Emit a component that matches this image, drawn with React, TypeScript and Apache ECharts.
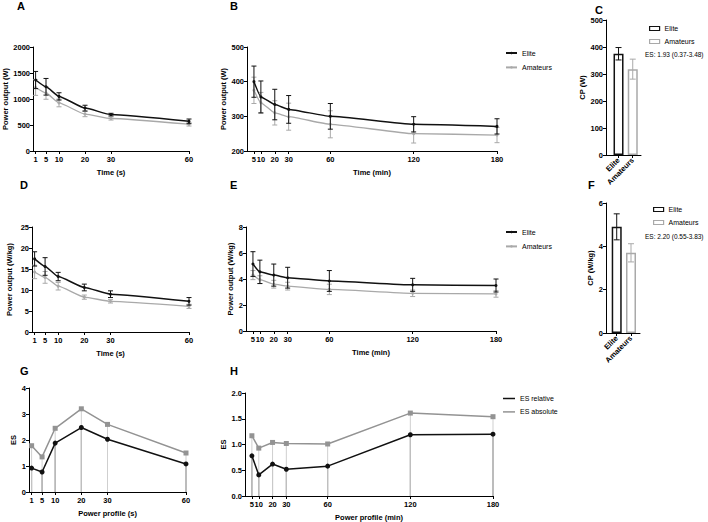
import React, { useEffect, useRef } from "react";
import * as echarts from "echarts";

// Durations (x values)
const timeSec = [1, 5, 10, 20, 30, 60];
const timeMin = [5, 10, 20, 30, 60, 120, 180];

// A: absolute power, short efforts (W)
const eliteWattSec = [1365, 1235, 1050, 825, 700, 570];
const eliteWattSecSd = [165, 160, 70, 55, 25, 45];
const amateurWattSec = [1220, 1115, 925, 710, 625, 515];
const amateurWattSecSd = [150, 120, 75, 50, 30, 35];

// B: absolute power, long efforts (W)
const eliteWattMin = [400, 356, 334, 320, 300, 277, 271];
const eliteWattMinSd = [45, 46, 44, 40, 37, 22, 22];
const amateurWattMin = [375, 339, 310, 299, 277, 250, 246];
const amateurWattMinSd = [38, 30, 35, 39, 39, 27, 22];

// D: relative power, short efforts (W/kg)
const eliteWkgSec = [17.4, 15.6, 13.2, 10.6, 9.0, 7.3];
const eliteWkgSecSd = [1.7, 2.1, 1.0, 0.8, 0.8, 0.9];
const amateurWkgSec = [14.3, 13.0, 10.9, 8.3, 7.3, 6.1];
const amateurWkgSecSd = [1.6, 1.4, 0.9, 0.5, 0.4, 0.5];

// E: relative power, long efforts (W/kg)
const eliteWkgMin = [5.15, 4.55, 4.3, 4.1, 3.85, 3.55, 3.5];
const eliteWkgMinSd = [0.95, 0.9, 0.85, 0.8, 0.8, 0.5, 0.5];
const amateurWkgMin = [4.3, 3.95, 3.6, 3.45, 3.2, 2.9, 2.85];
const amateurWkgMinSd = [0.35, 0.3, 0.3, 0.3, 0.4, 0.25, 0.25];

// C / F: critical power
const cpGroups = ["Elite", "Amateurs"];
const cpWatt = [375, 318];
const cpWattSd = [23, 37];
const cpWkg = [4.9, 3.7];
const cpWkgSd = [0.6, 0.42];
const esCpWatt = "ES: 1.93 (0.37-3.48)";
const esCpWkg = "ES: 2.20 (0.55-3.83)";

// G / H: effect sizes
const esRelSec = [0.92, 0.77, 1.88, 2.48, 2.03, 1.08];
const esAbsSec = [1.78, 1.35, 2.45, 3.2, 2.6, 1.5];
const esRelMin = [0.78, 0.41, 0.62, 0.52, 0.58, 1.19, 1.2];
const esAbsMin = [1.17, 0.93, 1.04, 1.02, 1.01, 1.61, 1.54];

const FONT = "'Liberation Sans', Arial, sans-serif";
const BLACK = "#111111";
const GREY = "#a9a9a9";
const ES_GREY = "#939393";
const DROP_GREY = "#cfcfcf";

const axisLineStyle = { color: "#000", width: 1 };
const labelStyle = {
  fontSize: 7.5,
  fontWeight: "bold" as const,
  color: "#000",
  fontFamily: FONT,
};
const nameStyle = {
  fontSize: 7.5,
  fontWeight: "bold" as const,
  color: "#000",
  fontFamily: FONT,
};

function xTimeAxis(gridIndex: number, max: number, ticks: number[], name: string, nameGap: number) {
  return {
    type: "value",
    gridIndex,
    min: 0,
    max,
    axisLine: { show: true, onZero: false, lineStyle: axisLineStyle },
    axisTick: { show: true, length: 3, customValues: ticks, lineStyle: axisLineStyle },
    axisLabel: { ...labelStyle, margin: 4, customValues: ticks },
    splitLine: { show: false },
    name,
    nameLocation: "middle",
    nameGap,
    nameTextStyle: nameStyle,
  };
}

function xGroupAxis(gridIndex: number, min: number, max: number) {
  return {
    type: "value",
    gridIndex,
    min,
    max,
    axisLine: { show: true, onZero: false, lineStyle: axisLineStyle },
    axisTick: { show: true, length: 3, customValues: [1, 2], lineStyle: axisLineStyle },
    axisLabel: {
      ...labelStyle,
      margin: 4,
      rotate: 45,
      customValues: [1, 2],
      formatter: (v: number) => cpGroups[Math.round(v) - 1] ?? "",
    },
    splitLine: { show: false },
  };
}

function yAxis(
  gridIndex: number,
  min: number,
  max: number,
  interval: number,
  name: string,
  nameGap: number,
  decimals = 0
) {
  return {
    type: "value",
    gridIndex,
    min,
    max,
    interval,
    axisLine: { show: true, onZero: false, lineStyle: axisLineStyle },
    axisTick: { show: true, length: 3, lineStyle: axisLineStyle },
    axisLabel: {
      ...labelStyle,
      margin: 3,
      formatter: (v: number) => v.toFixed(decimals),
    },
    splitLine: { show: false },
    name,
    nameLocation: "middle",
    nameGap,
    nameTextStyle: nameStyle,
  };
}

function meanLine(idx: number, name: string, xs: number[], ys: number[], color: string, width: number, z: number) {
  return {
    type: "line",
    name,
    xAxisIndex: idx,
    yAxisIndex: idx,
    data: xs.map((x, i) => [x, ys[i]]),
    smooth: 0.15,
    smoothMonotone: "x",
    symbol: "circle",
    symbolSize: 3,
    lineStyle: { color, width },
    itemStyle: { color },
    z,
  };
}

function errorBars(
  idx: number,
  xs: number[],
  mean: number[],
  sd: number[],
  colors: string | string[],
  z: number,
  cap = 2.5
) {
  return {
    type: "custom",
    xAxisIndex: idx,
    yAxisIndex: idx,
    data: xs.map((x, i) => [x, mean[i] - sd[i], mean[i] + sd[i]]),
    encode: { x: 0, y: [1, 2] },
    z,
    silent: true,
    renderItem: (p: any, api: any) => {
      const x = api.value(0);
      const lo = api.coord([x, api.value(1)]);
      const hi = api.coord([x, api.value(2)]);
      const color = Array.isArray(colors) ? colors[p.dataIndex] : colors;
      const style = { stroke: color, lineWidth: 1 };
      return {
        type: "group",
        children: [
          { type: "line", shape: { x1: lo[0], y1: lo[1], x2: hi[0], y2: hi[1] }, style },
          { type: "line", shape: { x1: lo[0] - cap, y1: lo[1], x2: lo[0] + cap, y2: lo[1] }, style },
          { type: "line", shape: { x1: hi[0] - cap, y1: hi[1], x2: hi[0] + cap, y2: hi[1] }, style },
        ],
      };
    },
  };
}

function dropLines(idx: number, xs: number[], ys: number[], color: string, z: number) {
  return {
    type: "custom",
    xAxisIndex: idx,
    yAxisIndex: idx,
    data: xs.map((x, i) => [x, ys[i]]),
    encode: { x: 0, y: 1 },
    z,
    silent: true,
    renderItem: (_p: any, api: any) => {
      const x = api.value(0);
      const top = api.coord([x, api.value(1)]);
      const base = api.coord([x, 0]);
      return {
        type: "line",
        shape: { x1: top[0], y1: top[1], x2: base[0], y2: base[1] },
        style: { stroke: color, lineWidth: 1 },
      };
    },
  };
}

function cpBars(idx: number, values: number[], sd: number[]) {
  const colors = [BLACK, GREY];
  return [
    {
      type: "bar",
      name: "CP",
      xAxisIndex: idx,
      yAxisIndex: idx,
      barWidth: 10,
      data: values.map((v, i) => ({
        value: [i + 1, v],
        itemStyle: { color: "#fff", borderColor: colors[i], borderWidth: 1.5 },
      })),
      z: 2,
    },
    errorBars(idx, [1, 2], values, sd, colors, 3, 3),
  ];
}

function esSeries(idx: number, xs: number[], rel: number[], abs: number[]) {
  return [
    dropLines(idx, xs, rel, "#555", 1),
    dropLines(idx, xs, abs, DROP_GREY, 2),
    {
      type: "line",
      name: "ES absolute",
      xAxisIndex: idx,
      yAxisIndex: idx,
      data: xs.map((x, i) => [x, abs[i]]),
      symbol: "rect",
      symbolSize: 5,
      lineStyle: { color: ES_GREY, width: 1.5 },
      itemStyle: { color: ES_GREY },
      z: 3,
    },
    {
      type: "line",
      name: "ES relative",
      xAxisIndex: idx,
      yAxisIndex: idx,
      data: xs.map((x, i) => [x, rel[i]]),
      symbol: "circle",
      symbolSize: 5,
      lineStyle: { color: BLACK, width: 1.5 },
      itemStyle: { color: BLACK },
      z: 4,
    },
  ];
}

const legendText = { fontSize: 7, color: "#000", fontFamily: FONT, lineHeight: 9 };

function lineLegend(left: number, top: number) {
  return {
    left,
    top,
    padding: 0,
    orient: "vertical",
    selectedMode: false,
    data: ["Elite", "Amateurs"],
    itemWidth: 11,
    itemHeight: 3,
    itemGap: 5.4,
    textStyle: legendText,
  };
}

function boxLegend(left: number, top: number) {
  return {
    left,
    top,
    padding: 0,
    orient: "vertical",
    selectedMode: false,
    itemWidth: 10,
    itemHeight: 4,
    itemGap: 4,
    textStyle: legendText,
    data: [
      { name: "Elite", icon: "rect", itemStyle: { color: "#fff", borderColor: BLACK, borderWidth: 1.2 } },
      { name: "Amateurs", icon: "rect", itemStyle: { color: "#fff", borderColor: GREY, borderWidth: 1.2 } },
    ],
  };
}

function panelLetter(text: string, x: number, y: number) {
  return {
    type: "text",
    x,
    y,
    style: { text, font: `bold 11px ${FONT}`, fill: "#000", textVerticalAlign: "top" },
  };
}

function noteText(text: string, x: number, y: number) {
  return {
    type: "text",
    x,
    y,
    style: { text, font: `6.5px ${FONT}`, fill: "#000", textVerticalAlign: "middle" },
  };
}

export default function App() {
  const ref = useRef<HTMLDivElement>(null);

  useEffect(() => {
    if (!ref.current) return;
    const chart = echarts.init(ref.current, null, { renderer: "svg" });

    const option = {
      animation: false,
      backgroundColor: "#fff",
      grid: [
        { left: 32, top: 47, width: 157, height: 104 }, // A
        { left: 247, top: 47, width: 250, height: 104 }, // B
        { left: 606, top: 20, width: 35, height: 135 }, // C
        { left: 32, top: 227, width: 157, height: 105 }, // D
        { left: 246, top: 227, width: 250, height: 104 }, // E
        { left: 606, top: 203, width: 34, height: 130 }, // F
        { left: 29, top: 388, width: 157, height: 104 }, // G
        { left: 245, top: 393, width: 248, height: 103 }, // H
      ],
      xAxis: [
        xTimeAxis(0, 60, timeSec, "Time (s)", 17),
        xTimeAxis(1, 180, timeMin, "Time (min)", 17),
        xGroupAxis(2, 0.12, 2.58),
        xTimeAxis(3, 60, timeSec, "Time (s)", 17),
        xTimeAxis(4, 180, timeMin, "Time (min)", 17),
        xGroupAxis(5, 0.25, 2.63),
        xTimeAxis(6, 60, timeSec, "Power profile (s)", 17),
        xTimeAxis(7, 180, timeMin, "Power profile (min)", 17),
      ],
      yAxis: [
        yAxis(0, 0, 2000, 500, "Power output (W)", 24),
        yAxis(1, 200, 500, 100, "Power output (W)", 18),
        yAxis(2, 0, 500, 100, "CP (W)", 17),
        yAxis(3, 0, 25, 5, "Power output (W/kg)", 19),
        yAxis(4, 0, 8, 2, "Power output (W/kg)", 12),
        yAxis(5, 0, 6, 2, "CP (W/kg)", 12),
        yAxis(6, 0, 4, 1, "ES", 12),
        yAxis(7, 0, 2, 0.5, "ES", 16, 1),
      ],
      legend: [
        lineLegend(505, 48.5),
        lineLegend(505, 227.5),
        boxLegend(649, 24),
        boxLegend(653, 205),
        {
          left: 503,
          top: 394,
          padding: 0,
          orient: "vertical",
          selectedMode: false,
          itemWidth: 12,
          itemHeight: 1.5,
          itemGap: 4.4,
          textStyle: legendText,
          data: [
            { name: "ES relative", icon: "rect", itemStyle: { color: BLACK, borderWidth: 0 } },
            { name: "ES absolute", icon: "rect", itemStyle: { color: ES_GREY, borderWidth: 0 } },
          ],
        },
      ],
      graphic: [
        panelLetter("A", 17, 0),
        panelLetter("B", 230, 0),
        panelLetter("C", 595, 4),
        panelLetter("D", 20, 179),
        panelLetter("E", 230, 179),
        panelLetter("F", 588, 179),
        panelLetter("G", 20, 365),
        panelLetter("H", 230, 365),
        noteText(esCpWatt, 645, 54),
        noteText(esCpWkg, 645, 236),
      ],
      series: [
        meanLine(0, "Elite", timeSec, eliteWattSec, BLACK, 1.5, 4),
        meanLine(0, "Amateurs", timeSec, amateurWattSec, GREY, 1.3, 3),
        errorBars(0, timeSec, amateurWattSec, amateurWattSecSd, GREY, 3),
        errorBars(0, timeSec, eliteWattSec, eliteWattSecSd, BLACK, 5),

        meanLine(1, "Elite", timeMin, eliteWattMin, BLACK, 1.5, 4),
        meanLine(1, "Amateurs", timeMin, amateurWattMin, GREY, 1.3, 3),
        errorBars(1, timeMin, amateurWattMin, amateurWattMinSd, GREY, 3),
        errorBars(1, timeMin, eliteWattMin, eliteWattMinSd, BLACK, 5),

        ...cpBars(2, cpWatt, cpWattSd),

        meanLine(3, "Elite", timeSec, eliteWkgSec, BLACK, 1.5, 4),
        meanLine(3, "Amateurs", timeSec, amateurWkgSec, GREY, 1.3, 3),
        errorBars(3, timeSec, amateurWkgSec, amateurWkgSecSd, GREY, 3),
        errorBars(3, timeSec, eliteWkgSec, eliteWkgSecSd, BLACK, 5),

        meanLine(4, "Elite", timeMin, eliteWkgMin, BLACK, 1.5, 4),
        meanLine(4, "Amateurs", timeMin, amateurWkgMin, GREY, 1.3, 3),
        errorBars(4, timeMin, amateurWkgMin, amateurWkgMinSd, GREY, 3),
        errorBars(4, timeMin, eliteWkgMin, eliteWkgMinSd, BLACK, 5),

        ...cpBars(5, cpWkg, cpWkgSd),

        ...esSeries(6, timeSec, esRelSec, esAbsSec),
        ...esSeries(7, timeMin, esRelMin, esAbsMin),
      ],
    };

    chart.setOption(option as any);
    return () => chart.dispose();
  }, []);

  return (
    <div
      ref={ref}
      style={{ position: "fixed", left: 0, top: 0, width: 708, height: 522, background: "#fff" }}
    />
  );
}
